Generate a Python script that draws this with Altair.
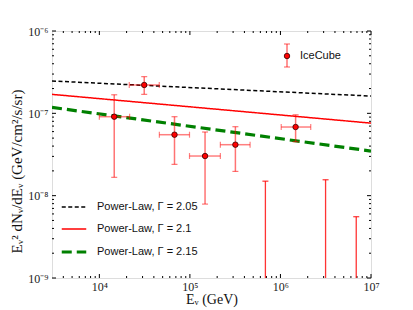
import altair as alt
import pandas as pd

# ---------------- data ----------------
# IceCube measured points
pt_E = [1.46e4, 3.13e4, 6.76e4, 1.47e5, 3.18e5, 1.47e6]
pt_E_lo = [1.0e4, 2.14e4, 4.6e4, 9.9e4, 2.17e5, 1.02e6]
pt_E_hi = [2.16e4, 4.59e4, 9.9e4, 2.17e5, 4.62e5, 2.16e6]
pt_F = [9.1e-8, 2.21e-7, 5.5e-8, 3.03e-8, 4.16e-8, 6.82e-8]
pt_F_lo = [1.67e-8, 1.70e-7, 2.4e-8, 7.9e-9, 1.97e-8, 4.52e-8]
pt_F_hi = [1.68e-7, 2.79e-7, 9.1e-8, 5.93e-8, 6.88e-8, 9.6e-8]

# IceCube upper limits (bars reaching down to zero)
ul_E = [6.82e5, 3.15e6, 6.87e6]
ul_F_hi = [1.5e-8, 1.56e-8, 5.55e-9]
ul_F_lo = [1e-9, 1e-9, 1e-9]

# power-law models (straight in log-log: endpoints at the plot edges)
line_E = [3e3, 1e7]
pl_labels = ["Power-Law, Γ = 2.05", "Power-Law, Γ = 2.1", "Power-Law, Γ = 2.15"]
pl_205 = [2.47e-7, 1.62e-7]
pl_210 = [1.70e-7, 7.6e-8]
pl_215 = [1.18e-7, 3.48e-8]

# axes
x_domain = [3e3, 1e7]
y_domain = [1e-9, 1e-6]
x_tick_values = [1e4, 1e5, 1e6, 1e7]
x_tick_labels = ["10⁴", "10⁵", "10⁶", "10⁷"]
y_tick_values = [1e-9, 1e-8, 1e-7, 1e-6]
y_tick_labels = ["10⁻⁹", "10⁻⁸", "10⁻⁷", "10⁻⁶"]
x_minor = [m * 10 ** e for e in range(3, 7) for m in range(2, 10) if 3e3 < m * 10 ** e < 1e7]
y_minor = [m * 10.0 ** e for e in range(-9, -6) for m in range(2, 10)]

# ---------------- tables ----------------
pts = pd.DataFrame(dict(E=pt_E, Elo=pt_E_lo, Ehi=pt_E_hi, F=pt_F, Flo=pt_F_lo, Fhi=pt_F_hi))
uls = pd.DataFrame(dict(E=ul_E, Fhi=ul_F_hi, Flo=ul_F_lo))
lines = pd.DataFrame(dict(
    E=line_E * 3,
    F=pl_205 + pl_210 + pl_215,
    model=[pl_labels[0]] * 2 + [pl_labels[1]] * 2 + [pl_labels[2]] * 2,
))

W, H = 319, 247
RED = "#ff0000"
SERIF = "Liberation Serif"
SANS = "Liberation Sans"


def label_expr(values, labels):
    parts = [f"abs(datum.value - {v}) < {v} * 1e-6 ? '{l}'" for v, l in zip(values, labels)]
    return " : ".join(parts) + " : ''"


xscale = alt.Scale(type="log", domain=x_domain, nice=False)
yscale = alt.Scale(type="log", domain=y_domain, nice=False)

xaxis = alt.Axis(
    title="Eᵥ (GeV)", values=x_tick_values, labelExpr=label_expr(x_tick_values, x_tick_labels),
    ticks=False, domain=False, grid=False, labelFlush=False, labelPadding=3,
    labelFont=SERIF, labelFontSize=12, labelColor="#222",
    titleFont=SERIF, titleFontSize=14, titleFontWeight="normal", titleColor="#111",
    titleY=25.5, titleBaseline="alphabetic",
)
yaxis = alt.Axis(
    title="Eᵥ² dNᵥ/dEᵥ (GeV/cm²/s/sr)", values=y_tick_values,
    labelExpr=label_expr(y_tick_values, y_tick_labels),
    ticks=False, domain=False, grid=False, labelFlush=False, labelPadding=4,
    labelFont=SERIF, labelFontSize=12, labelColor="#222",
    titleFont=SERIF, titleFontSize=15, titleFontWeight="normal", titleColor="#111",
    titleX=-36, titleY=140, titleAngle=270, titleAlign="center", titleBaseline="middle",
)

X = lambda f: alt.X(f, type="quantitative", scale=xscale, axis=xaxis)
Y = lambda f: alt.Y(f, type="quantitative", scale=yscale, axis=yaxis)

legend = alt.Legend(
    title=None, orient="none", legendX=8, legendY=163,
    symbolType="stroke", symbolSize=600, labelFont=SANS, labelFontSize=11,
    labelColor="#111", labelOffset=9, rowPadding=4, padding=0)

# power-law lines with legend
line_layer = alt.Chart(lines).mark_line(clip=True).encode(
    x=X("E"), y=Y("F"),
    color=alt.Color("model:N", sort=pl_labels,
                    scale=alt.Scale(domain=pl_labels, range=["#000000", RED, "#008000"]),
                    legend=legend),
    strokeDash=alt.StrokeDash("model:N", sort=pl_labels,
                              scale=alt.Scale(domain=pl_labels, range=[[4, 2.5], [1, 0], [10, 5]]),
                              legend=legend),
    strokeWidth=alt.StrokeWidth("model:N", sort=pl_labels,
                                scale=alt.Scale(type="ordinal", domain=pl_labels, range=[1.5, 1.5, 3.2]),
                                legend=legend),
)

# error bars
vbar = alt.Chart(pts).mark_rule(color=RED, opacity=0.55, strokeWidth=1.5).encode(x=X("E"), y=Y("Flo"), y2="Fhi")
hbar = alt.Chart(pts).mark_rule(color=RED, opacity=0.5, strokeWidth=1.5).encode(x=X("Elo"), x2="Ehi", y=Y("F"))
cap_lo = alt.Chart(pts).mark_tick(color=RED, opacity=0.55, orient="horizontal", size=6, thickness=1.2).encode(x=X("E"), y=Y("Flo"))
cap_hi = alt.Chart(pts).mark_tick(color=RED, opacity=0.55, orient="horizontal", size=6, thickness=1.2).encode(x=X("E"), y=Y("Fhi"))
cap_l = alt.Chart(pts).mark_tick(color=RED, opacity=0.5, orient="vertical", size=6, thickness=1.2).encode(x=X("Elo"), y=Y("F"))
cap_r = alt.Chart(pts).mark_tick(color=RED, opacity=0.5, orient="vertical", size=6, thickness=1.2).encode(x=X("Ehi"), y=Y("F"))
dots = alt.Chart(pts).mark_point(filled=True, shape="circle", size=30, fill=RED, stroke="#330000",
                                 strokeWidth=0.8, opacity=1).encode(x=X("E"), y=Y("F"))

ul_bar = alt.Chart(uls).mark_rule(color=RED, opacity=0.8, strokeWidth=1.3).encode(x=X("E"), y=Y("Flo"), y2="Fhi")
ul_cap = alt.Chart(uls).mark_tick(color=RED, opacity=0.8, orient="horizontal", size=6, thickness=1.2).encode(x=X("E"), y=Y("Fhi"))

# IceCube legend entry (decoration)
leg = pd.DataFrame(dict(name=["IceCube"]))
lx, ly = 235, 25
ic_bar = alt.Chart(leg).mark_rule(color=RED, opacity=0.55, strokeWidth=1.5).encode(
    x=alt.value(lx), y=alt.value(ly - 12), y2=alt.value(ly + 11))
ic_cap1 = alt.Chart(leg).mark_rule(color=RED, opacity=0.55, strokeWidth=1.2).encode(
    x=alt.value(lx - 3), x2=alt.value(lx + 3), y=alt.value(ly - 12))
ic_cap2 = alt.Chart(leg).mark_rule(color=RED, opacity=0.55, strokeWidth=1.2).encode(
    x=alt.value(lx - 3), x2=alt.value(lx + 3), y=alt.value(ly + 11))
ic_dot = alt.Chart(leg).mark_point(filled=True, shape="circle", size=30, fill=RED, stroke="#330000",
                                   strokeWidth=0.8, opacity=1).encode(x=alt.value(lx), y=alt.value(ly))
ic_text = alt.Chart(leg).mark_text(align="left", baseline="middle", font=SANS, fontSize=11,
                                   color="#111").encode(x=alt.value(lx + 13), y=alt.value(ly), text="name:N")

# inward ticks on all four sides
xmaj = pd.DataFrame(dict(v=x_tick_values))
xmin = pd.DataFrame(dict(v=x_minor))
ymaj = pd.DataFrame(dict(v=y_tick_values))
ymin = pd.DataFrame(dict(v=y_minor))


def xticks(df, L):
    b = alt.Chart(df).mark_rule(color="black", strokeWidth=1).encode(x=X("v"), y=alt.value(H), y2=alt.value(H - L))
    t = alt.Chart(df).mark_rule(color="black", strokeWidth=1).encode(x=X("v"), y=alt.value(0), y2=alt.value(L))
    return [b, t]


def yticks(df, L):
    l = alt.Chart(df).mark_rule(color="black", strokeWidth=1).encode(y=Y("v"), x=alt.value(0), x2=alt.value(L))
    r = alt.Chart(df).mark_rule(color="black", strokeWidth=1).encode(y=Y("v"), x=alt.value(W), x2=alt.value(W - L))
    return [l, r]


tick_layers = xticks(xmaj, 4) + xticks(xmin, 2) + yticks(ymaj, 4) + yticks(ymin, 2)

chart = alt.layer(
    *tick_layers,
    line_layer,
    ul_bar, ul_cap,
    vbar, hbar, cap_lo, cap_hi, cap_l, cap_r, dots,
    ic_bar, ic_cap1, ic_cap2, ic_dot, ic_text,
).properties(
    width=W, height=H,
    autosize=alt.AutoSizeParams(type="none"),
    padding={"left": 44, "top": 23, "right": 26, "bottom": 31},
).configure_view(stroke="black", strokeWidth=1.2).configure(background="white")

chart.save("out.html", embed_options={"renderer": "svg", "actions": False})
